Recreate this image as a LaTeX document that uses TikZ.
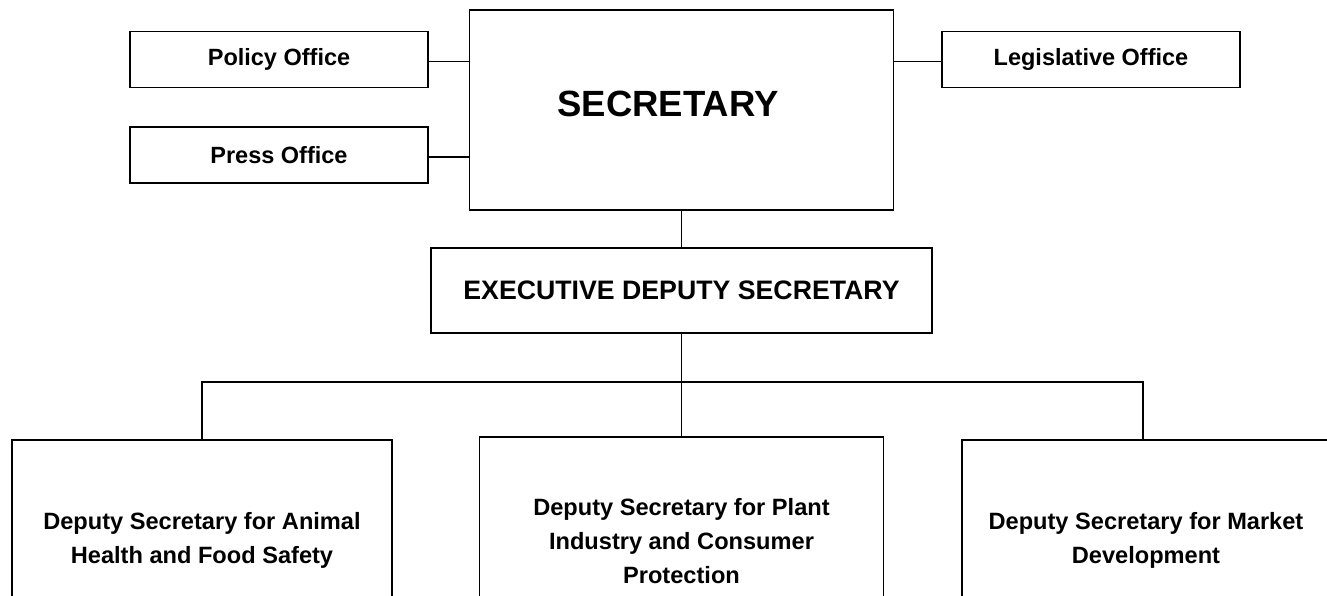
\documentclass[tikz,border=0pt]{standalone}
\usepackage{fontspec}
\setmainfont{Liberation Sans}
\usetikzlibrary{positioning, calc}

\tikzset{
  office/.style={draw, line width=1.3pt, minimum width=298pt, minimum height=56pt, inner sep=0pt,
    font=\fontsize{23.5}{28}\selectfont\bfseries},
  deputy/.style={draw, line width=1.3pt, inner sep=0pt, align=center,
    font=\fontsize{23.6}{34}\selectfont\bfseries},
  link/.style={line width=1.1pt}
}

\begin{document}
\begin{tikzpicture}[x=1pt, y=-1pt]
  % Frame of the page
  \useasboundingbox (0,0) rectangle (1327,596);
  \clip (0,0) rectangle (1327,596);

  % Top level
  \node[draw, line width=1.3pt, minimum width=424pt, minimum height=200pt, inner sep=0pt] (sec) at (681.5,110) {};
  \node[font=\fontsize{36.5}{40}\selectfont\bfseries] (sectext) at (668,104) {SECRETARY};

  % Staff offices
  \node[office] (policy) at (279,59.5) {Policy Office};
  \node[office] (press) at (279,155) {Press Office};
  \node[office] (legis) at (1091,59.5) {Legislative Office};

  % Executive deputy
  \node[draw, line width=1.3pt, minimum width=501pt, minimum height=85pt, inner sep=0pt,
        font=\fontsize{26.7}{30}\selectfont\bfseries] (exec) at (681.5,290.5) {EXECUTIVE DEPUTY SECRETARY};

  % Deputy secretaries
  \node[deputy, minimum width=380pt, minimum height=200pt] (animal) at (202,540)
    {Deputy Secretary for Animal\\Health and Food Safety};
  \node[deputy, minimum width=404pt, minimum height=208pt] (plant) at (681.5,541)
    {Deputy Secretary for Plant\\Industry and Consumer\\Protection};
  \node[deputy, minimum width=368pt, minimum height=200pt] (market) at (1146,540)
    {Deputy Secretary for Market\\Development};

  % Connectors
  \coordinate (bar) at (681.5,382);
  \draw[link] ([yshift=-2pt]policy.east) -- ([yshift=-2pt]policy.east -| sec.west);
  \draw[link] ([yshift=-2pt]press.east) -- ([yshift=-2pt]press.east -| sec.west);
  \draw[link] ([yshift=-2pt]legis.west) -- ([yshift=-2pt]legis.west -| sec.east);
  \draw[link] (sec.south) -- (exec.north);
  \draw[link] (exec.south) -- (bar);
  \draw[link] (animal.north) |- (bar) -| ([xshift=-3pt]market.north);
  \draw[link] (bar) -- (plant.north);
\end{tikzpicture}
\end{document}
